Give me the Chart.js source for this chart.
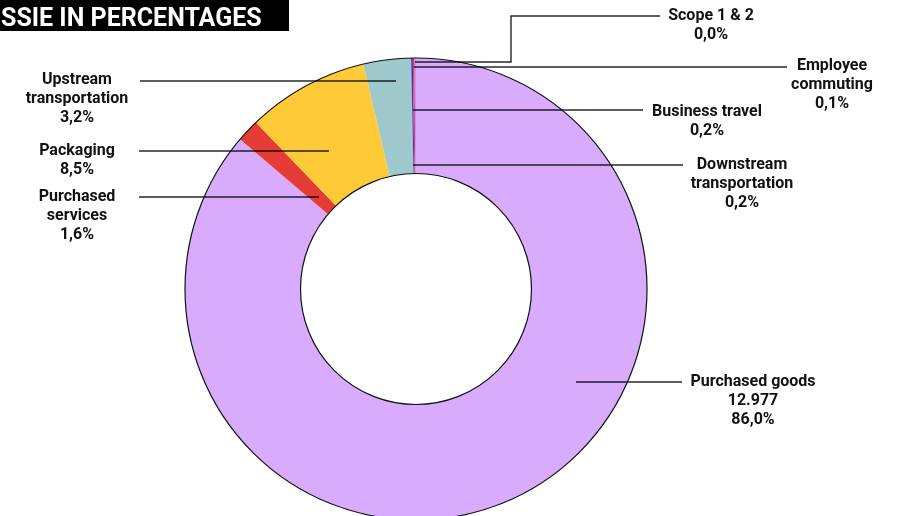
<!DOCTYPE html>
<html lang="en">
<head>
  <meta charset="UTF-8">
  <title>Emissions in percentages</title>
  <script src="https://cdn.jsdelivr.net/npm/chart.js"></script>
  <style>
    html, body { margin: 0; padding: 0; overflow: hidden; background: #fff; }
  </style>
</head>
<body>
  <canvas id="donut" width="897" height="520"></canvas>

  <script>
    // categories, clockwise from 12 o'clock
    const categories = ['Purchased goods', 'Purchased services', 'Packaging', 'Upstream transportation',
      'Downstream transportation', 'Business travel', 'Employee commuting', 'Scope 1 & 2'];
    // emissions (tonnes CO2e)
    const emissions = [12977, 241, 1283, 500, 18, 18, 12, 3];
    const percentLabels = ['86,0%', '1,6%', '8,5%', '3,2%', '0,2%', '0,2%', '0,1%', '0,0%'];
    const colors = ['#d8abfc', '#e53c35', '#ffca38', '#9ec8cb', '#2b3fae', '#e024dc', '#f2806a', '#5cb85c'];

    // label text lines + where each label and its leader line go
    const callouts = [
      { i: 0, lines: ['Purchased goods', '12.977', '86,0%'], cx: 753, top: 382, path: [[576, 382], [682, 382]] },
      { i: 1, lines: ['Purchased', 'services', '1,6%'], cx: 77, top: 197, path: [[319, 197], [139, 197]] },
      { i: 2, lines: ['Packaging', '8,5%'], cx: 77, top: 151, path: [[329, 151], [139, 151]] },
      { i: 3, lines: ['Upstream', 'transportation', '3,2%'], cx: 77, top: 80, path: [[396, 81], [140, 81]] },
      { i: 4, lines: ['Downstream', 'transportation', '0,2%'], cx: 742, top: 165, path: [[413, 165], [683, 165]] },
      { i: 5, lines: ['Business travel', '0,2%'], cx: 707, top: 112, path: [[413, 110], [643, 110]] },
      { i: 6, lines: ['Employee', 'commuting', '0,1%'], cx: 832, top: 66, path: [[414, 67], [787, 67]] },
      { i: 7, lines: ['Scope 1 & 2', '0,0%'], cx: 711, top: 16, path: [[415, 62], [511, 62], [511, 16], [660, 16]] }
    ];

    const decorations = {
      id: 'decorations',
      afterDatasetsDraw(chart) {
        const ctx = chart.ctx;
        const arc = chart.getDatasetMeta(0).data[0];
        const { x, y, outerRadius, innerRadius } = arc.getProps(['x', 'y', 'outerRadius', 'innerRadius'], true);

        // thin outline around outer and inner edge only
        ctx.save();
        ctx.strokeStyle = '#111';
        ctx.lineWidth = 1.2;
        ctx.beginPath();
        ctx.arc(x, y, outerRadius, 0, Math.PI * 2);
        ctx.stroke();
        ctx.beginPath();
        ctx.arc(x, y, innerRadius, 0, Math.PI * 2);
        ctx.stroke();

        // leader lines
        ctx.strokeStyle = 'rgba(0,0,0,0.85)';
        ctx.lineWidth = 1.4;
        callouts.forEach(c => {
          ctx.beginPath();
          c.path.forEach((p, k) => k ? ctx.lineTo(p[0], p[1]) : ctx.moveTo(p[0], p[1]));
          ctx.stroke();
        });

        // labels
        ctx.fillStyle = '#111';
        ctx.font = 'bold 16px Roboto, "DejaVu Sans", sans-serif';
        ctx.textAlign = 'center';
        ctx.textBaseline = 'middle';
        callouts.forEach(c => {
          c.lines.forEach((t, k) => ctx.fillText(t, c.cx, c.top + k * 19));
        });

        // title block, cut at the left edge
        ctx.fillStyle = '#000';
        ctx.fillRect(0, 0, 289, 31);
        ctx.fillStyle = '#fff';
        ctx.font = 'bold 25px Roboto, sans-serif';
        ctx.textAlign = 'left';
        ctx.textBaseline = 'alphabetic';
        ctx.fillText('SSIE IN PERCENTAGES', 1, 26, 264);
        ctx.restore();
      }
    };

    new Chart(document.getElementById('donut'), {
      type: 'doughnut',
      data: {
        labels: categories,
        datasets: [{
          data: emissions,
          backgroundColor: colors,
          borderWidth: 0
        }]
      },
      options: {
        responsive: false,
        animation: false,
        cutout: '50%',
        layout: { padding: { top: 58, left: 185, right: 250, bottom: 0 } },
        plugins: {
          legend: { display: false },
          tooltip: { enabled: false }
        }
      },
      plugins: [decorations]
    });
  </script>
</body>
</html>
